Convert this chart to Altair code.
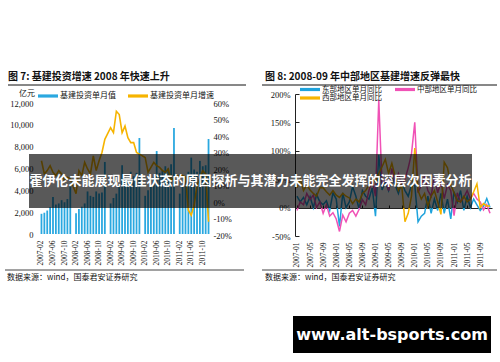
import altair as alt
import pandas as pd

# ---------------- data ----------------
years = [2007, 2008, 2009, 2010, 2011]
all_months = [f"{y}-{m:02d}" for y in years for m in range(1, 13)]
left_months = all_months[1:]          # 2007-02 .. 2011-12
right_months = all_months             # 2007-01 .. 2011-12
left_ticks = [m for m in left_months if (int(m[5:]) - 2) % 4 == 0]
right_ticks = [m for m in right_months if (int(m[5:]) - 1) % 4 == 0]

# 基建投资单月值 (亿元); January is not reported (None)
infra_value = [1850, 1950, 2150, 2450, 3400, 2700, 2800, 3100, 2900, 3200, 4400,
               None, 1900, 2300, 2500, 2800, 3900, 3500, 3400, 3900, 3700, 3800, 6600,
               None, 2800, 3300, 3700, 4300, 6300, 5200, 5000, 5700, 5300, 5600, 8800,
               None, 3500, 4000, 4500, 5200, 7600, 5600, 5800, 6200, 6000, 6400, 9700,
               None, 3700, 4300, 4900, 5700, 7000, 5900, 5700, 6700, 6200, 6300, 8700]
# 基建投资单月增速 (%)
infra_growth = [25, 17, 19, 22, 18, 16, 19, 17, 13, 15, 14,
                None, 5, 19, 16, 24, 20, 17, 28, 19, 25, 30, 38,
                None, 45, 42, 55, 53, 42, 46, 39, 36, 36, 30, 29,
                None, 27, 18, 21, 24, 22, 21, 19, 18, 20, 13, 15,
                None, 16, 16, 15, -5, -8, -2, 10, 15, 19, 17, -12]

east = [20, 10, 18, 5, 19, 0, 23, 10, 5, 12, -5, 26,
        15, -33, 26, 0, 10, 37, 20, -3, 30, 20, 15, 35,
        -15, 93, 31, 45, 30, 55, 40, 25, 45, 30, 20, 40,
        40, -25, -15, -10, 20, -10, 15, -5, 25, -10, 15, -20,
        28, 10, 30, -5, 20, 0, 15, 5, -5, 2, 16, 0]
central = [-5, 10, 5, 25, 14, 22, 0, 10, -10, 5, -15, -9,
           -20, -42, -13, -25, -10, -5, -15, -3, 14, 5, 30, 49,
           20, 190, 40, 50, 30, 69, 45, 60, 40, 50, 70, 95,
           150, 26, 40, 55, 30, 20, 55, 26, 45, 16, 40, 30,
           -14, 26, 10, 18, 30, 15, 25, 15, 10, -4, 5, -10]
west = [35, 50, 30, 40, 31, 25, 20, 35, 35, 28, 22, 30,
        22, 18, 25, 20, 17, 7, 15, 10, 25, 30, 40, 52,
        45, 60, 72, 85, 60, 78, 55, 30, 40, -25, -10, 20,
        105, 30, 15, 25, 2, 20, 30, 10, -12, 80, 70, 40,
        26, 12, 10, 20, 10, 15, 28, 42, 0, 7, 3, 3]

left_series = ["基建投资单月值", "基建投资单月增速"]
right_series = ["东部地区单月同比", "中部地区单月同比", "西部地区单月同比"]

title7 = "图 7:  基建投资增速 2008 年快速上升"
title8 = "图 8:  2008-09 年中部地区基建增速反弹最快"
source = "数据来源：wind，国泰君安证券研究"
unit = "亿元"
banner = "霍伊伦未能展现最佳状态的原因探析与其潜力未能完全发挥的深层次因素分析"
watermark = "www.alt-bsports.com"

BAR_BLUE = "#2aa8e0"
BLUE = "#1fa3dc"
PINK = "#f052b6"
YELLOW = "#f6b400"
CJK = "Noto Sans CJK SC"
SERIF = "Liberation Serif"

# ---------------- tables ----------------
df_left = pd.DataFrame({"month": left_months, "value": infra_value, "growth": infra_growth})
df_bars = df_left.dropna(subset=["value"])
df_growth = df_left.dropna(subset=["growth"]).assign(series=left_series[1])

df_right = pd.concat([
    pd.DataFrame({"month": right_months, "value": vals, "series": name})
    for name, vals in zip(right_series, [east, central, west])
])

# ---------------- scales ----------------
xL = alt.Scale(type="band", domain=left_months, range=[40, 210], paddingInner=0.38, paddingOuter=0.2)
yL_bar = alt.Scale(domain=[0, 12000], range=[234, 103], nice=False, zero=False)
yL_line = alt.Scale(domain=[-20, 60], range=[235, 103], nice=False, zero=False)
xR = alt.Scale(type="point", domain=right_months, range=[295, 492], padding=0.6)
yR = alt.Scale(domain=[-50, 200], range=[236, 94], nice=False, zero=False)

# ---------------- left panel ----------------
bars = alt.Chart(df_bars).mark_bar(color=BAR_BLUE).encode(
    x=alt.X("month:O", scale=xL,
            axis=alt.Axis(orient="bottom", offset=-124, values=left_ticks, labelAngle=270,
                          domain=False, ticks=False, tickSize=0, labelPadding=2, title=None,
                          labelFont=SERIF, labelFontSize=7.5, labelOverlap=False)),
    y=alt.Y("value:Q", scale=yL_bar,
            axis=alt.Axis(orient="left", offset=-41, values=list(range(0, 12001, 2000)),
                          domain=False, ticks=False, tickSize=0, labelPadding=8, title=None,
                          labelFont=SERIF, labelFontSize=8.5, grid=False)),
)

growth = alt.Chart(df_growth).mark_line(strokeWidth=1.6).encode(
    x=alt.X("month:O", scale=xL, axis=None),
    y=alt.Y("growth:Q", scale=yL_line,
            axis=alt.Axis(orient="right", offset=-289, values=list(range(-20, 61, 10)),
                          labelExpr="datum.value + '%'", domain=False, ticks=False, tickSize=0,
                          labelPadding=2, title=None, labelFont=SERIF, labelFontSize=8.5,
                          grid=False)),
    color=alt.Color("series:N", scale=alt.Scale(domain=left_series, range=[BAR_BLUE, YELLOW]),
                    legend=None),
)

# ---------------- right panel ----------------
right_lines = alt.Chart(df_right).mark_line(strokeWidth=1.5).encode(
    x=alt.X("month:O", scale=xR,
            axis=alt.Axis(orient="bottom", offset=-122, values=right_ticks, labelAngle=270,
                          domain=False, ticks=False, tickSize=0, labelPadding=2, title=None,
                          labelFont=SERIF, labelFontSize=7.5, labelOverlap=False)),
    y=alt.Y("value:Q", scale=yR,
            axis=alt.Axis(orient="left", offset=-295, values=[-50, 0, 50, 100, 150, 200],
                          labelExpr="datum.value + '%'", domain=False, ticks=False, tickSize=0,
                          labelPadding=5, title=None, labelFont=SERIF, labelFontSize=8.5,
                          grid=False)),
    color=alt.Color("series:N", scale=alt.Scale(domain=right_series, range=[BLUE, PINK, YELLOW]),
                    legend=None),
)

right_frame = alt.Chart(df_right[df_right.series == right_series[0]]).mark_line(opacity=0).encode(
    x=alt.X("month:O", scale=xR,
            axis=alt.Axis(orient="top", offset=-208, values=right_ticks, labels=False,
                          domain=True, ticks=True, tickSize=3, domainColor="#222",
                          tickColor="#222", title=None, grid=False)),
    y=alt.Y("value:Q", scale=yR,
            axis=alt.Axis(orient="right", offset=-205, values=[-50, 0, 50, 100, 150, 200],
                          labels=False, domain=True, ticks=True, tickSize=4,
                          domainColor="#222", tickColor="#222", title=None, grid=False)),
)

# ---------------- decorations ----------------
one = pd.DataFrame({"k": [0]})


def text(s, x, y, size=8, weight="normal", color="#111", font=CJK, align="left"):
    return alt.Chart(pd.DataFrame({"t": [s]})).mark_text(
        align=align, baseline="middle", fontSize=size, fontWeight=weight, color=color, font=font
    ).encode(x=alt.value(x), y=alt.value(y), text="t:N")


def hrule(x1, x2, y, color="#111", w=1):
    return alt.Chart(one).mark_rule(color=color, strokeWidth=w).encode(
        x=alt.value(x1), x2=alt.value(x2), y=alt.value(y))


legend_items = [
    # (label, colour, swatch x, y, font size)
    (left_series[0], BAR_BLUE, 38, 96, 8),
    (left_series[1], YELLOW, 128, 96, 8),
    (right_series[0], BLUE, 300, 89.5, 7.5),
    (right_series[1], PINK, 395, 89.5, 7.5),
    (right_series[2], YELLOW, 300, 98, 7.5),
]
legend_layers = []
for lab, col, lx, ly, fs in legend_items:
    legend_layers.append(hrule(lx, lx + 20, ly, color=col, w=3.2))
    legend_layers.append(text(lab, lx + 22, ly, size=fs))

decor = [
    text(title7, 8, 77, size=10, weight="bold"),
    text(title8, 265, 77, size=10, weight="bold"),
    hrule(8, 246, 85),
    hrule(262, 497, 85),
    text(unit, 27, 94, size=8, align="center"),
    *legend_layers,
    hrule(5, 244, 270, color="#444"),
    hrule(262, 497, 270, color="#444"),
    text(source, 7, 278, size=8),
    text(source, 265, 278, size=8),
    alt.Chart(one).mark_rect(color="black", opacity=0.65).encode(
        x=alt.value(29), x2=alt.value(472), y=alt.value(154), y2=alt.value(208)),
    text(banner, 250.5, 181, size=13, weight="bold", color="white", align="center"),
    alt.Chart(one).mark_rect(color="black").encode(
        x=alt.value(293), x2=alt.value(491), y=alt.value(316), y2=alt.value(353)),
    text(watermark, 392, 335, size=16, weight="bold", color="white", font="DejaVu Sans",
         align="center"),
]

chart = alt.layer(bars, growth, right_lines, right_frame, *decor).resolve_scale(
    x="independent", y="independent", color="independent"
).properties(
    width=500, height=362, padding=0, background="white",
    autosize=alt.AutoSizeParams(type="none"),
).configure_view(stroke=None).configure_axis(labelColor="#111")

chart.save("out.html", embed_options={"renderer": "svg", "actions": False})
